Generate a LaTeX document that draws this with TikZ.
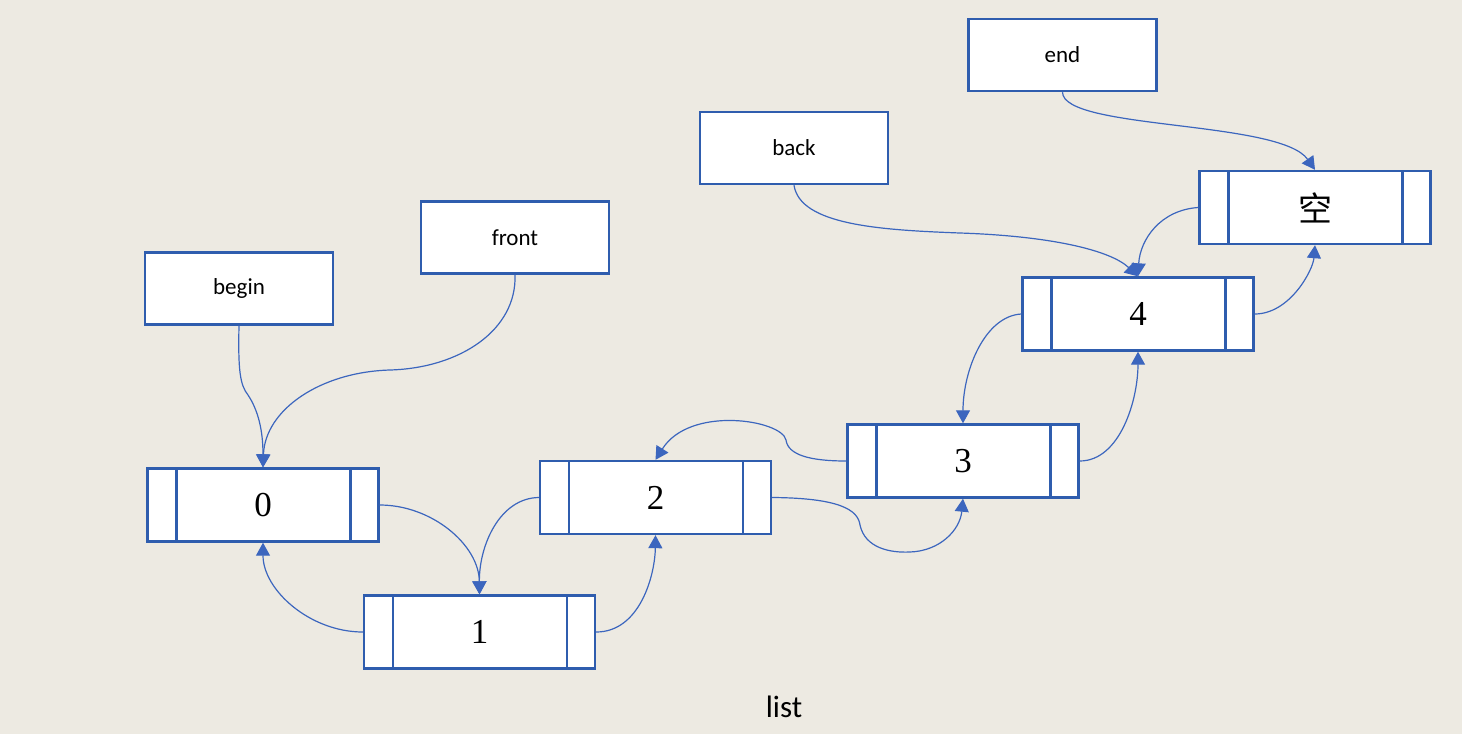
\documentclass[tikz,border=0pt]{standalone}
\usepackage{fontspec}
\setmainfont{Carlito}
\newfontfamily\numfont{Liberation Serif}
\newfontfamily\cjk{Noto Sans CJK SC}
\usetikzlibrary{arrows.meta}

\definecolor{paper}{HTML}{EDEAE2}
\definecolor{boxblue}{HTML}{2F5DAE}
\definecolor{linkblue}{HTML}{3C66BE}

\begin{document}
\begin{tikzpicture}[x=0.5pt,y=-0.5pt,
		name node/.style={draw=boxblue,fill=white,line width=1.2pt,minimum width=94pt,
			minimum height=36pt,inner sep=0pt,font=\fontsize{11.5}{14}\selectfont},
		list node/.style={draw=boxblue,fill=white,line width=1.2pt,minimum width=115.5pt,
			minimum height=36.5pt,inner sep=0pt,font=\numfont\fontsize{17.5}{20}\selectfont,
			path picture={\draw[boxblue,line width=1.2pt]
				([xshift=14.5pt]path picture bounding box.north west) -- ([xshift=14.5pt]path picture bounding box.south west)
				([xshift=-14pt]path picture bounding box.north east) -- ([xshift=-14pt]path picture bounding box.south east);}},
		link/.style={draw=linkblue,line width=0.6pt,-{Triangle[width=7pt,length=6.5pt]}}]

	\fill[paper] (0,0) rectangle (1462,734);
	\useasboundingbox (0,0) rectangle (1462,734);

	\node[name node] (begin) at (239,288.5) {begin};
	\node[name node] (front) at (515,237.5) {front};
	\node[name node] (back) at (794,148) {back};
	\node[name node] (end) at (1062.5,55) {end};

	\node[list node] (n0) at (263,505) {0};
	\node[list node] (n1) at (479.5,632) {1};
	\node[list node] (n2) at (655.5,497.5) {2};
	\node[list node] (n3) at (963,461) {3};
	\node[list node] (n4) at (1138,314) {4};
	\node[list node,font=\cjk\fontsize{17}{20}\selectfont] (n5) at (1315,207.5) {空};

	\node[font=\fontsize{15.5}{18}\selectfont] (title) at (784,707) {list};

	% pointers into the list
	\draw[link] (begin.south) .. controls (238,370) and (240,385) .. (248,395)
		.. controls (258,410) and (263,430) .. (n0.north);
	\draw[link] (front.south) .. controls (517,330) and (460,368) .. (390,370)
		.. controls (320,372) and (265,410) .. (n0.north);
	\draw[link] (back.south) .. controls (800,225) and (880,230) .. (960,233)
		.. controls (1050,236) and (1110,250) .. (n4.north);
	\draw[link] (end.south) .. controls (1063,130) and (1280,120) .. (n5.north);

	% next / prev links
	\draw[link] (n0.east) .. controls (432,505) and (479,545) .. (n1.north);
	\draw[link] (n1.west) .. controls (310,632) and (263,590) .. (n0.south);
	\draw[link] (n1.east) .. controls (640,632) and (655,575) .. (n2.south);
	\draw[link] (n2.west) .. controls (500,498) and (479,545) .. (n1.north);
	\draw[link] (n2.east) .. controls (840,498) and (858,510) .. (860,525)
		.. controls (865,548) and (890,553) .. (910,552)
		.. controls (940,551) and (960,530) .. (n3.south);
	\draw[link] (n3.west) .. controls (810,461) and (788,455) .. (786,440)
		.. controls (782,420) and (690,405) .. (n2.north);
	\draw[link] (n3.east) .. controls (1120,461) and (1138,400) .. (n4.south);
	\draw[link] (n4.west) .. controls (985,316) and (963,370) .. (n3.north);
	\draw[link] (n4.east) .. controls (1290,314) and (1313,270) .. (n5.south);
	\draw[link] (n5.west) .. controls (1160,210) and (1140,240) .. (n4.north);
\end{tikzpicture}
\end{document}
